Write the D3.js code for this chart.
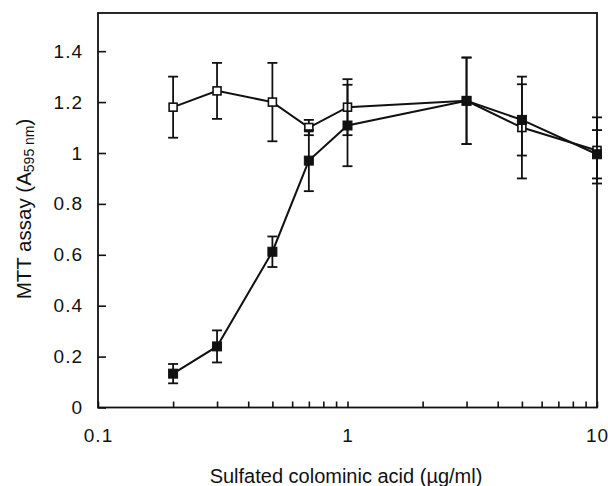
<!DOCTYPE html>
<html>
<head>
<meta charset="utf-8">
<script src="https://cdn.jsdelivr.net/npm/d3@7"></script>
<style>
  html, body { margin: 0; padding: 0; background: #fff; }
  svg { display: block; }
  text { font-family: "Liberation Sans", Arial, Helvetica, sans-serif; fill: #111; }
  .tick text { font-size: 19px; letter-spacing: 1px; }
</style>
</head>
<body>
<script>
// Data
const concentrations = [0.2, 0.3, 0.5, 0.7, 1, 3, 5, 10];
const openValues   = [1.18, 1.244, 1.20, 1.10, 1.18, 1.205, 1.10, 1.01];
const openErrors   = [0.12, 0.11, 0.154, 0.03, 0.11, 0.17, 0.20, 0.13];
const filledValues = [0.133, 0.24, 0.612, 0.97, 1.108, 1.205, 1.13, 0.995];
const filledErrors = [0.038, 0.063, 0.06, 0.12, 0.16, 0.17, 0.14, 0.095];
const yTickValues = [0, 0.2, 0.4, 0.6, 0.8, 1, 1.2, 1.4];
const yTickLabels = ["0", "0.2", "0.4", "0.6", "0.8", "1", "1.2", "1.4"];
const xMajorTicks = [0.1, 1, 10];
const xMajorLabels = ["0.1", "1", "10"];
const xMinorTicks = [0.2,0.3,0.4,0.5,0.6,0.7,0.8,0.9,2,3,4,5,6,7,8,9];
const xTitle = "Sulfated colominic acid (µg/ml)";

const W = 608, H = 486;
const L = 98, R = 597, T = 13, B = 407.5;

const svg = d3.select("body").append("svg").attr("width", W).attr("height", H);

const x = d3.scaleLog().domain([0.1, 10]).range([L, R]);
const y = d3.scaleLinear().domain([0, 1.55]).range([B, T]);

// frame
svg.append("rect").attr("x", L).attr("y", T).attr("width", R - L).attr("height", B - T)
  .attr("fill", "none").attr("stroke", "#111").attr("stroke-width", 1.8);

// y axis (ticks inward)
const yAxis = d3.axisLeft(y).tickValues(yTickValues).tickSize(-8)
  .tickFormat((d, i) => yTickLabels[i]).tickPadding(15);
const gy = svg.append("g").attr("transform", `translate(${L},0)`).call(yAxis);
gy.attr("font-size", null).attr("font-family", null);
gy.select(".domain").remove();
gy.selectAll(".tick line").attr("stroke", "#111").attr("stroke-width", 1.6);
gy.selectAll(".tick text").style("font-size", "19px").style("letter-spacing", "1px").attr("fill", "#111");

// x axis (ticks inward)
const xAxis = d3.axisBottom(x).tickValues(xMajorTicks.concat(xMinorTicks)).tickSize(-6)
  .tickFormat(d => { const i = xMajorTicks.indexOf(d); return i >= 0 ? xMajorLabels[i] : ""; })
  .tickPadding(21);
const gx = svg.append("g").attr("transform", `translate(0,${B})`).call(xAxis);
gx.attr("font-size", null).attr("font-family", null);
gx.select(".domain").remove();
gx.selectAll(".tick line").attr("stroke", "#111").attr("stroke-width", 1.6);
gx.selectAll(".tick text").style("font-size", "19px").style("letter-spacing", "1px").attr("fill", "#111");

// axis titles
svg.append("text").attr("x", 346).attr("y", 483).attr("text-anchor", "middle")
  .style("font-size", "20px").text(xTitle);

const yt = svg.append("text").attr("transform", "translate(31,209) rotate(-90)")
  .attr("text-anchor", "middle").style("font-size", "20.5px");
yt.append("tspan").text("MTT assay (A");
yt.append("tspan").style("font-size", "14px").attr("dy", 3).text("595 nm");
yt.append("tspan").attr("dy", -3).text(")");

function drawSeries(values, errors, filled) {
  const pts = concentrations.map((c, i) => ({ c, v: values[i], e: errors[i] }));
  const g = svg.append("g");
  // error bars
  const eb = g.selectAll(".eb").data(pts).enter().append("g");
  eb.append("line").attr("x1", d => x(d.c)).attr("x2", d => x(d.c))
    .attr("y1", d => y(d.v - d.e)).attr("y2", d => y(d.v + d.e))
    .attr("stroke", "#111").attr("stroke-width", 1.8);
  [-1, 1].forEach(s => {
    eb.append("line").attr("x1", d => x(d.c) - 5).attr("x2", d => x(d.c) + 5)
      .attr("y1", d => y(d.v + s * d.e)).attr("y2", d => y(d.v + s * d.e))
      .attr("stroke", "#111").attr("stroke-width", 1.8);
  });
  // line
  g.append("path").datum(pts)
    .attr("d", d3.line().x(d => x(d.c)).y(d => y(d.v)))
    .attr("fill", "none").attr("stroke", "#111").attr("stroke-width", 2);
  // markers
  const s = filled ? 9 : 8;
  g.selectAll(".m").data(pts).enter().append("rect")
    .attr("x", d => x(d.c) - s / 2).attr("y", d => y(d.v) - s / 2)
    .attr("width", s).attr("height", s)
    .attr("fill", filled ? "#111" : "#fff")
    .attr("stroke", "#111").attr("stroke-width", filled ? 1 : 1.6);
}

drawSeries(openValues, openErrors, false);
drawSeries(filledValues, filledErrors, true);
</script>
</body>
</html>
